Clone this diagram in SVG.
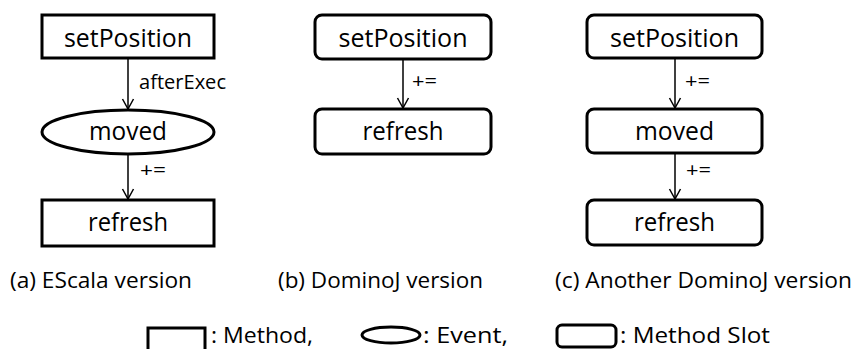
<svg xmlns="http://www.w3.org/2000/svg" width="855" height="349" viewBox="0 0 855 349">
  <defs>
    <style>
      text { font-family: "Open Sans", "Noto Sans", "Liberation Sans", sans-serif; fill: #000; }
      .node { fill: #fff; stroke: #000; stroke-width: 3; }
      .label { font-size: 25px; text-anchor: middle; }
      .edge-label { font-size: 20px; }
      .caption { font-size: 22px; }
      .legend { font-size: 21px; }
      .edge { stroke: #000; stroke-width: 1.5; fill: none; marker-end: url(#chevron); }
    </style>
    <marker id="chevron" viewBox="0 0 12 12" refX="11" refY="6" markerWidth="12" markerHeight="12" markerUnits="userSpaceOnUse" orient="auto" overflow="visible">
      <path d="M1,0.5 L11,6 L1,11.5" fill="none" stroke="#000" stroke-width="1.5"/>
    </marker>
  </defs>

  <rect width="855" height="349" fill="#fff"/>

  <!-- connectors -->
  <g id="connectors">
    <line class="edge" x1="128" y1="58" x2="128" y2="109"/>
    <line class="edge" x1="128" y1="154" x2="128" y2="199"/>
    <line class="edge" x1="403" y1="59" x2="403" y2="108"/>
    <line class="edge" x1="675" y1="58" x2="675" y2="108"/>
    <line class="edge" x1="675" y1="153" x2="675" y2="199"/>
    <text class="edge-label" x="139" y="89" textLength="87" lengthAdjust="spacingAndGlyphs">afterExec</text>
    <text class="edge-label" x="140" y="177" textLength="26" lengthAdjust="spacingAndGlyphs">+=</text>
    <text class="edge-label" x="412" y="88" textLength="25" lengthAdjust="spacingAndGlyphs">+=</text>
    <text class="edge-label" x="685" y="88" textLength="25" lengthAdjust="spacingAndGlyphs">+=</text>
    <text class="edge-label" x="686" y="177" textLength="25" lengthAdjust="spacingAndGlyphs">+=</text>
  </g>

  <!-- (a) EScala version -->
  <g id="a-setPosition">
    <rect class="node" x="42" y="15" width="172" height="43"/>
    <text class="label" x="128" y="47" textLength="128" lengthAdjust="spacingAndGlyphs">setPosition</text>
  </g>
  <g id="a-moved">
    <ellipse class="node" cx="128" cy="132" rx="86" ry="22"/>
    <text class="label" x="128" y="140" textLength="78" lengthAdjust="spacingAndGlyphs">moved</text>
  </g>
  <g id="a-refresh">
    <rect class="node" x="42" y="200" width="172" height="46"/>
    <text class="label" x="128" y="231" textLength="80" lengthAdjust="spacingAndGlyphs">refresh</text>
  </g>

  <!-- (b) DominoJ version -->
  <g id="b-setPosition">
    <rect class="node" x="315" y="15" width="176" height="44" rx="7"/>
    <text class="label" x="403" y="47" textLength="129" lengthAdjust="spacingAndGlyphs">setPosition</text>
  </g>
  <g id="b-refresh">
    <rect class="node" x="315" y="109" width="176" height="45" rx="7"/>
    <text class="label" x="403" y="140" textLength="81" lengthAdjust="spacingAndGlyphs">refresh</text>
  </g>

  <!-- (c) Another DominoJ version -->
  <g id="c-setPosition">
    <rect class="node" x="587" y="15" width="175" height="43" rx="7"/>
    <text class="label" x="674.5" y="47" textLength="129" lengthAdjust="spacingAndGlyphs">setPosition</text>
  </g>
  <g id="c-moved">
    <rect class="node" x="587" y="109" width="175" height="44" rx="7"/>
    <text class="label" x="674.5" y="140" textLength="79" lengthAdjust="spacingAndGlyphs">moved</text>
  </g>
  <g id="c-refresh">
    <rect class="node" x="587" y="200" width="175" height="45" rx="7"/>
    <text class="label" x="674.5" y="231" textLength="81" lengthAdjust="spacingAndGlyphs">refresh</text>
  </g>

  <!-- captions -->
  <g id="captions">
    <text class="caption" x="10" y="288" textLength="182" lengthAdjust="spacingAndGlyphs">(a) EScala version</text>
    <text class="caption" x="278" y="288" textLength="205" lengthAdjust="spacingAndGlyphs">(b) DominoJ version</text>
    <text class="caption" x="555" y="288" textLength="297" lengthAdjust="spacingAndGlyphs">(c) Another DominoJ version</text>
  </g>

  <!-- legend -->
  <g id="legend">
    <rect class="node" x="148" y="328" width="57" height="26"/>
    <text class="legend" x="211" y="343" textLength="102" lengthAdjust="spacingAndGlyphs">: Method,</text>
    <ellipse class="node" cx="391" cy="335" rx="29" ry="8"/>
    <text class="legend" x="423" y="343" textLength="85" lengthAdjust="spacingAndGlyphs">: Event,</text>
    <rect class="node" x="557" y="325" width="59" height="22" rx="5"/>
    <text class="legend" x="620" y="343" textLength="150" lengthAdjust="spacingAndGlyphs">: Method Slot</text>
  </g>
</svg>
